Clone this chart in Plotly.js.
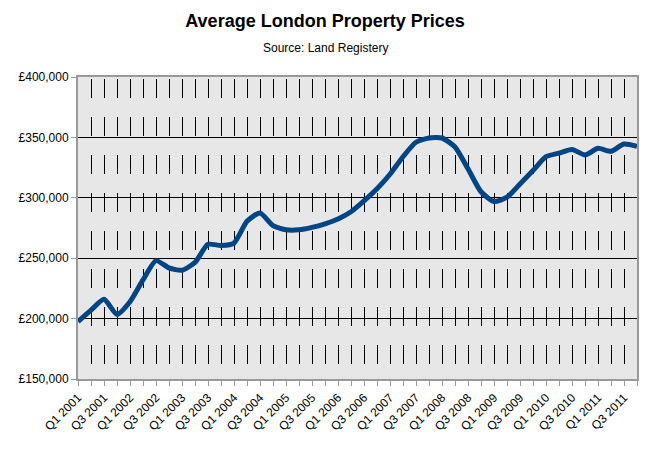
<!DOCTYPE html>
<html>
<head>
<meta charset="utf-8">
<script src="https://cdn.plot.ly/plotly-3.0.1.min.js"></script>
<style>html,body{margin:0;padding:0;background:#fff;}#chart{width:650px;height:451px;}</style>
</head>
<body>
<div id="chart"></div>
<script>
var quarters = [
  "Q1 2001","Q2 2001","Q3 2001","Q4 2001",
  "Q1 2002","Q2 2002","Q3 2002","Q4 2002",
  "Q1 2003","Q2 2003","Q3 2003","Q4 2003",
  "Q1 2004","Q2 2004","Q3 2004","Q4 2004",
  "Q1 2005","Q2 2005","Q3 2005","Q4 2005",
  "Q1 2006","Q2 2006","Q3 2006","Q4 2006",
  "Q1 2007","Q2 2007","Q3 2007","Q4 2007",
  "Q1 2008","Q2 2008","Q3 2008","Q4 2008",
  "Q1 2009","Q2 2009","Q3 2009","Q4 2009",
  "Q1 2010","Q2 2010","Q3 2010","Q4 2010",
  "Q1 2011","Q2 2011","Q3 2011","Q4 2011"
];
var prices = [
  197500, 207000, 216000, 203500,
  214000, 232000, 248000, 242000,
  240000, 246500, 261500, 260500,
  262500, 280500, 287500, 277000,
  273500, 273500, 275500, 278500,
  282500, 288500, 297500, 307500,
  319500, 334000, 346000, 349500,
  349500, 342000, 324000, 305000,
  297000, 300500, 311500, 322500,
  334000, 337000, 340000, 335500,
  341000, 338500, 344500, 342500
];
var xTickLabels = [
  "Q1 2001","","Q3 2001","",
  "Q1 2002","","Q3 2002","",
  "Q1 2003","","Q3 2003","",
  "Q1 2004","","Q3 2004","",
  "Q1 2005","","Q3 2005","",
  "Q1 2006","","Q3 2006","",
  "Q1 2007","","Q3 2007","",
  "Q1 2008","","Q3 2008","",
  "Q1 2009","","Q3 2009","",
  "Q1 2010","","Q3 2010","",
  "Q1 2011","","Q3 2011",""
];
var chartTitle = "Average London Property Prices";
var chartSubtitle = "Source: Land Registery";

var trace = {
  type: "scatter",
  mode: "lines",
  x: quarters,
  y: prices,
  line: {color: "#004586", width: 5, shape: "spline", smoothing: 0.6},
  hoverinfo: "skip"
};

var font = "Liberation Sans, Arial, sans-serif";
var layout = {
  width: 650,
  height: 451,
  margin: {l: 78, r: 13, t: 77, b: 72, pad: 0},
  paper_bgcolor: "#ffffff",
  plot_bgcolor: "#e7e7e7",
  showlegend: false,
  font: {family: font, size: 12, color: "#000"},
  title: {
    text: "<b>" + chartTitle + "</b>",
    font: {family: font, size: 18, color: "#000"},
    x: 0.5, xref: "container", xanchor: "center",
    y: 1 - 21 / 451, yref: "container", yanchor: "middle"
  },
  annotations: [{
    text: chartSubtitle,
    xref: "paper", yref: "paper",
    x: (325 - 78) / 559, y: (379 - 48) / 302,
    xanchor: "center", yanchor: "middle",
    showarrow: false,
    font: {family: font, size: 12, color: "#000"}
  }],
  xaxis: {
    type: "category",
    range: [0, quarters.length - 1],
    tickmode: "array",
    tickvals: quarters,
    ticktext: xTickLabels,
    tickangle: -45,
    ticks: "outside",
    ticklen: 5,
    tickcolor: "#999",
    tickfont: {family: font, size: 12, color: "#000"},
    showgrid: true,
    gridcolor: "#000",
    gridwidth: 1,
    griddash: "0px,2px,19px,17px",
    showline: true,
    linecolor: "#999",
    linewidth: 2,
    mirror: true,
    zeroline: false,
    fixedrange: true
  },
  yaxis: {
    range: [150000, 400000],
    dtick: 50000,
    tick0: 150000,
    tickprefix: "£",
    tickformat: ",d",
    ticks: "outside",
    ticklen: 5,
    tickcolor: "#999",
    tickfont: {family: font, size: 12, color: "#000"},
    showgrid: true,
    gridcolor: "#000",
    gridwidth: 1,
    showline: true,
    linecolor: "#999",
    linewidth: 2,
    mirror: true,
    zeroline: false,
    fixedrange: true
  }
};

Plotly.newPlot("chart", [trace], layout, {displayModeBar: false, staticPlot: true});
</script>
</body>
</html>
